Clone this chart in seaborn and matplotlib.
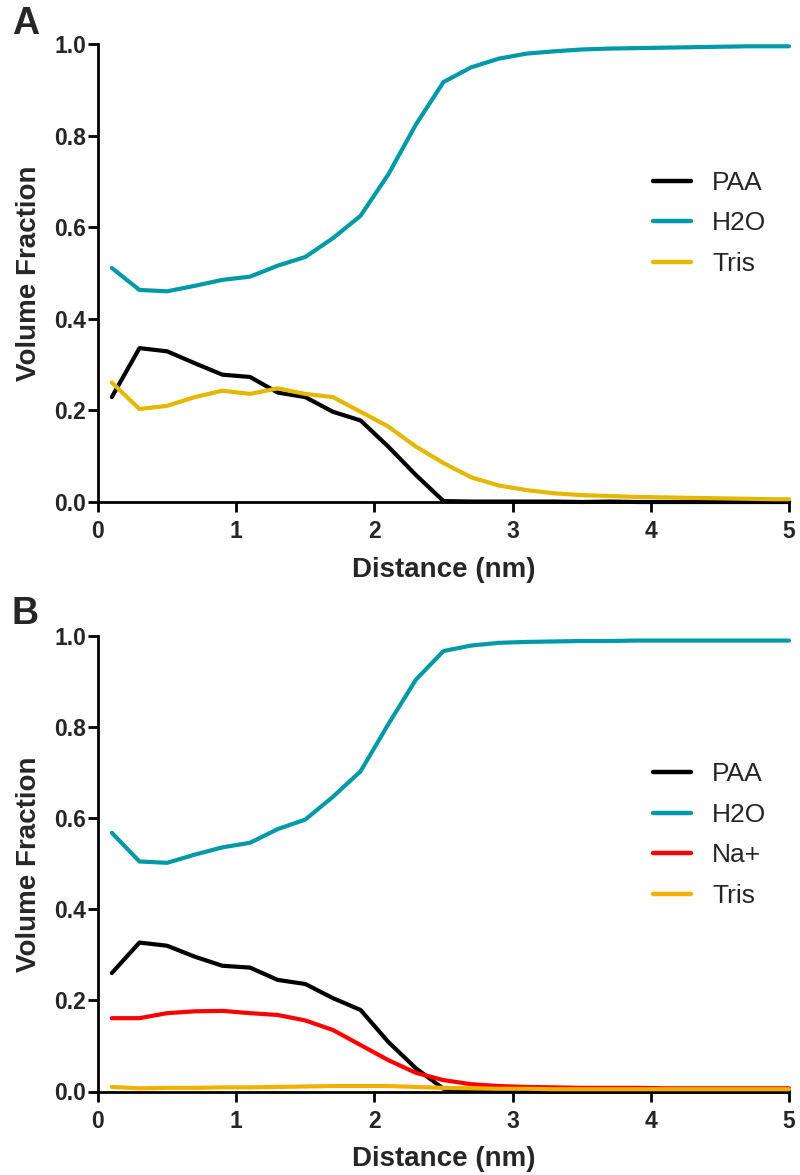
import matplotlib
matplotlib.use("Agg")
import matplotlib.pyplot as plt
import seaborn as sns
import pandas as pd

# ---- data ----
distance = [0.1, 0.3, 0.5, 0.7, 0.9, 1.1, 1.3, 1.5, 1.7, 1.9, 2.1, 2.3, 2.5,
            2.7, 2.9, 3.1, 3.3, 3.5, 3.7, 3.9, 4.1, 4.3, 4.5, 4.7, 4.9, 5.0]

a_paa = [0.229, 0.336, 0.329, 0.303, 0.278, 0.273, 0.239, 0.229, 0.197, 0.178,
         0.121, 0.059, 0.002, 0.001, 0.001, 0.001, 0.001, 0.0, 0.001, 0.0,
         0.0, 0.0, 0.0, 0.0, 0.0, 0.0]
a_h2o = [0.511, 0.463, 0.460, 0.472, 0.485, 0.492, 0.516, 0.535, 0.576, 0.625,
         0.715, 0.824, 0.917, 0.949, 0.968, 0.979, 0.984, 0.988, 0.990, 0.991,
         0.992, 0.993, 0.994, 0.995, 0.995, 0.995]
a_tris = [0.261, 0.203, 0.210, 0.229, 0.243, 0.236, 0.248, 0.236, 0.229, 0.197,
          0.165, 0.121, 0.085, 0.054, 0.036, 0.026, 0.019, 0.015, 0.013, 0.011,
          0.010, 0.009, 0.008, 0.007, 0.006, 0.006]

b_paa = [0.260, 0.327, 0.320, 0.296, 0.276, 0.272, 0.245, 0.236, 0.205, 0.179,
         0.109, 0.051, 0.006, 0.002, 0.001, 0.001, 0.0, 0.0, 0.0, 0.0,
         0.0, 0.0, 0.0, 0.0, 0.0, 0.0]
b_h2o = [0.568, 0.505, 0.502, 0.520, 0.536, 0.546, 0.576, 0.597, 0.647, 0.703,
         0.806, 0.904, 0.967, 0.979, 0.985, 0.987, 0.988, 0.989, 0.989, 0.990,
         0.990, 0.990, 0.990, 0.990, 0.990, 0.990]
b_na = [0.161, 0.161, 0.172, 0.176, 0.177, 0.172, 0.168, 0.156, 0.135, 0.102,
        0.069, 0.041, 0.025, 0.016, 0.012, 0.010, 0.009, 0.008, 0.008, 0.008,
        0.007, 0.007, 0.007, 0.007, 0.007, 0.007]
b_tris = [0.010, 0.007, 0.008, 0.008, 0.009, 0.009, 0.010, 0.011, 0.012, 0.012,
          0.012, 0.010, 0.008, 0.007, 0.006, 0.006, 0.005, 0.005, 0.005, 0.005,
          0.005, 0.005, 0.005, 0.005, 0.005, 0.005]

x_ticks = [0, 1, 2, 3, 4, 5]
y_ticks = [0.0, 0.2, 0.4, 0.6, 0.8, 1.0]
x_label = "Distance (nm)"
y_label = "Volume Fraction"

sns.set_style("ticks")
plt.rcParams["font.family"] = ["Liberation Sans", "DejaVu Sans"]

def long_df(series):
    rows = []
    for name, vals in series:
        for x, v in zip(distance, vals):
            rows.append({"Distance": x, "Value": v, "Species": name})
    return pd.DataFrame(rows)

dfA = long_df([("PAA", a_paa), ("H2O", a_h2o), ("Tris", a_tris)])
dfB = long_df([("PAA", b_paa), ("H2O", b_h2o), ("Na+", b_na), ("Tris", b_tris)])

palA = {"PAA": "#000000", "H2O": "#0099A8", "Tris": "#E5B800"}
palB = {"PAA": "#000000", "H2O": "#0099A8", "Na+": "#FF0000", "Tris": "#F2B000"}

fig = plt.figure(figsize=(8, 11.75), dpi=100)
axA = fig.add_axes([98/800, 1 - 502/1175, 691/800, 458/1175])
axB = fig.add_axes([98/800, 1 - 1091.5/1175, 691/800, 455.5/1175])

for ax, df, pal, order in [
    (axA, dfA, palA, ["PAA", "H2O", "Tris"]),
    (axB, dfB, palB, ["PAA", "H2O", "Na+", "Tris"]),
]:
    sns.lineplot(data=df, x="Distance", y="Value", hue="Species",
                 hue_order=order, palette=pal, linewidth=3.0, ax=ax,
                 clip_on=False, zorder=3)
    ax.set_xlim(0, 5)
    ax.set_ylim(0, 1.0)
    ax.set_xticks(x_ticks)
    ax.set_xticklabels([str(t) for t in x_ticks])
    ax.set_yticks(y_ticks)
    ax.set_yticklabels([f"{t:.1f}" for t in y_ticks])
    for lab in ax.get_xticklabels() + ax.get_yticklabels():
        lab.set_fontweight("bold")
        lab.set_fontsize(16.5)
    ax.tick_params(axis="both", direction="out", length=7.5, width=2.0, color="black")
    ax.tick_params(axis="y", pad=1.0)
    ax.tick_params(axis="x", pad=5.5)
    for s in ["left", "bottom"]:
        ax.spines[s].set_linewidth(2.0)
        ax.spines[s].set_color("black")
    for s in ["top", "right"]:
        ax.spines[s].set_visible(False)
    ax.set_xlabel(x_label, fontsize=20, fontweight="bold", labelpad=10)
    ax.set_ylabel(y_label, fontsize=20, fontweight="bold", labelpad=9)
    handles, labels = ax.get_legend_handles_labels()
    ax.legend(handles, labels, loc="upper left", bbox_to_anchor=(0.803, 0.723),
              frameon=False, fontsize=19, handlelength=1.44, handletextpad=0.8,
              labelspacing=0.63, borderpad=0, borderaxespad=0)
    for ln in ax.get_legend().get_lines():
        ln.set_linewidth(3.2)

fig.text(12/800, 1 - 6/1175, "A", fontsize=27, fontweight="bold", va="top", ha="left")
fig.text(12/800, 1 - 596/1175, "B", fontsize=27, fontweight="bold", va="top", ha="left")

fig.savefig("out.png", dpi=100)
